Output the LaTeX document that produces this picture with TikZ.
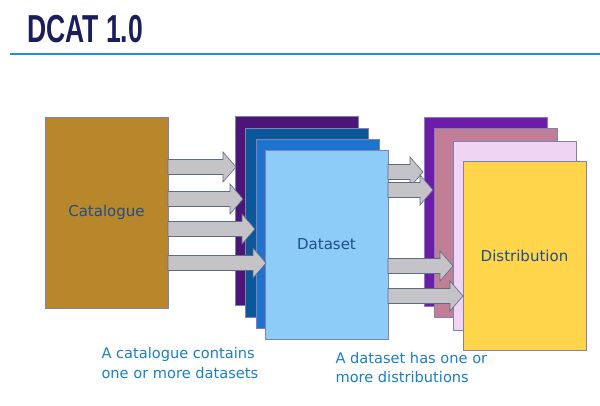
\documentclass[tikz,border=0pt]{standalone}
\usepackage{fontspec}
\setmainfont{DejaVu Sans}
\newfontfamily\titlefont{Liberation Sans}

\definecolor{titlenavy}{HTML}{1B1D5C}
\definecolor{ruleblue}{HTML}{1E90DC}
\definecolor{labelblue}{HTML}{1F4E8C}
\definecolor{noteblue}{HTML}{1A7FC7}
\definecolor{catbrown}{HTML}{B8862B}
\definecolor{dsA}{HTML}{4B1677}
\definecolor{dsB}{HTML}{0A5899}
\definecolor{dsC}{HTML}{1E73CF}
\definecolor{dsD}{HTML}{8DCBF8}
\definecolor{distA}{HTML}{6C1CAB}
\definecolor{distB}{HTML}{C17F97}
\definecolor{distC}{HTML}{EFD5F3}
\definecolor{distD}{HTML}{FFD54B}
\definecolor{arrowgrey}{HTML}{C4C4C8}
\definecolor{arrowedge}{HTML}{5E6B80}

\newcommand{\blockarrow}[3]{%
\draw [arrowbox] (#1.east |- 0,{#3-7.5}) -- ({#2-13},{#3-7.5}) -- ({#2-13},{#3-15})
  -- (#2,#3) -- ({#2-13},{#3+15}) -- ({#2-13},{#3+7.5}) -- (#1.east |- 0,{#3+7.5}) -- cycle;}

\begin{document}
\begin{tikzpicture}[x=1pt,y=-1pt,
  layer/.style={draw=black!60!blue!50, line width=0.6pt, outer sep=0pt, anchor=north west,
    minimum width=123pt, minimum height=189pt, inner sep=0pt, text=labelblue,
    font=\fontsize{15}{18}\selectfont},
  arrowbox/.style={fill=arrowgrey, draw=arrowedge, line width=0.6pt, line join=miter},
  note/.style={anchor=west, align=left, text=noteblue, font=\fontsize{14.6}{19.5}\selectfont}]
\useasboundingbox [fill=white] (0,0) rectangle (600,406);
\node [anchor=west, inner sep=0pt, text=titlenavy] (title) at (27,29)
  {\titlefont\bfseries\fontsize{39}{39}\selectfont\scalebox{0.68}[1]{DCAT 1.0}};
\draw [ruleblue, line width=1.4pt] (10,54) -- (600,54);
\node [layer, fill=catbrown, minimum height=191pt] (cat) at (45,117) {Catalogue};
\node [layer, fill=dsA] (ds1) at (235,116) {};
\node [layer, fill=dsB] (ds2) at (245,128) {};
\node [layer, fill=dsC] (ds3) at (256,139) {};
\node [layer, fill=dsD] (ds4) at (265,150) {Dataset};
\node [layer, fill=distA] (dist1) at (424,117) {};
\node [layer, fill=distB] (dist2) at (434,128) {};
\node [layer, fill=distC] (dist3) at (453,141) {};
\node [layer, fill=distD] (dist4) at (463,161) {Distribution};
\blockarrow{cat}{236}{167}
\blockarrow{cat}{243}{199}
\blockarrow{cat}{255}{229}
\blockarrow{cat}{266}{263}
\blockarrow{ds4}{423}{172}
\blockarrow{ds4}{433}{190}
\blockarrow{ds4}{453}{266}
\blockarrow{ds4}{463}{296}
\node [note] (catnote) at (98,363) {A catalogue contains\\one or more datasets};
\node [note] (dsnote) at (332,367.5) {A dataset has one or\\more distributions};
\end{tikzpicture}
\end{document}
